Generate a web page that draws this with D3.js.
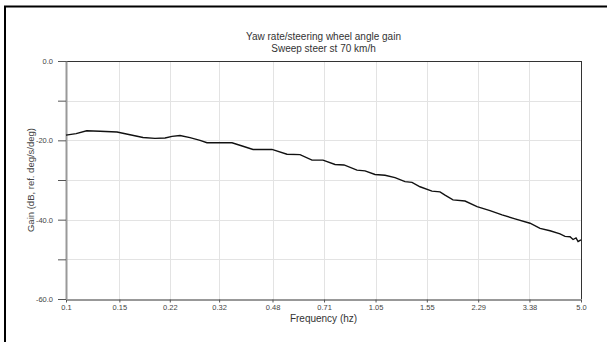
<!DOCTYPE html>
<html><head><meta charset="utf-8">
<script src="https://cdn.jsdelivr.net/npm/d3@7"></script>
<style>body{margin:0;background:#fff;}svg{display:block;font-family:"Liberation Sans",Arial,sans-serif;}</style>
</head><body><svg id="c" width="607" height="342"></svg>
<script>
const titleLines = ["Yaw rate/steering wheel angle gain", "Sweep steer st 70 km/h"];
const xLabel = "Frequency (hz)";
const yLabel = "Gain (dB, ref. deg/s/deg)";
const xTicks = [0.1, 0.15, 0.22, 0.32, 0.48, 0.71, 1.05, 1.55, 2.29, 3.38, 5.0];
const xTickLabels = ["0.1","0.15","0.22","0.32","0.48","0.71","1.05","1.55","2.29","3.38","5.0"];
const yTicks = [0, -10, -20, -30, -40, -50, -60];
const freq = [0.100,0.108,0.117,0.1295,0.1473,0.1626,0.1795,0.1966,0.2122,0.2238,0.2377,0.2565,0.2768,0.2918,0.3529,0.3836,0.414,0.4781,0.5358,0.5916,0.6479,0.7045,0.7717,0.8262,0.912,0.9692,1.0457,1.1283,1.2173,1.3134,1.385,1.472,1.612,1.713,1.78,1.891,2.072,2.27,2.505,2.745,3.029,3.395,3.663,3.953,4.264,4.429,4.6,4.707,4.815,4.89,5.0];
const gain = [-18.7,-18.3,-17.6,-17.7,-17.9,-18.6,-19.3,-19.5,-19.4,-19.0,-18.8,-19.3,-20.0,-20.6,-20.6,-21.5,-22.3,-22.3,-23.5,-23.6,-25.0,-25.0,-26.1,-26.2,-27.5,-27.7,-28.6,-28.8,-29.4,-30.4,-30.6,-31.7,-32.8,-33.0,-33.8,-35.0,-35.3,-36.7,-37.7,-38.8,-39.8,-40.9,-42.2,-42.8,-43.6,-44.2,-44.3,-45.0,-44.6,-45.5,-45.1];

const svg = d3.select("#c");
const L = 66, R = 581, T = 61, B = 299;
const x = d3.scaleLog().domain([0.1, 5.0]).range([L, R]);
const y = d3.scaleLinear().domain([-60, 0]).range([B, T]);

// outer frame
svg.append("rect").attr("x", 5).attr("y", 6.5).attr("width", 700).attr("height", 400)
  .attr("fill", "none").attr("stroke", "#000").attr("stroke-width", 2);

// grid
const g = svg.append("g");
g.selectAll(".hg").data(yTicks.slice(1, -1)).enter().append("line")
  .attr("x1", L).attr("x2", R).attr("y1", d => Math.round(y(d)) + 0.5).attr("y2", d => Math.round(y(d)) + 0.5)
  .attr("stroke", "#e3e3e3").attr("stroke-width", 1);
g.selectAll(".vg").data(xTicks.slice(1, -1)).enter().append("line")
  .attr("y1", T).attr("y2", B).attr("x1", d => Math.round(x(d)) + 0.5).attr("x2", d => Math.round(x(d)) + 0.5)
  .attr("stroke", "#e3e3e3").attr("stroke-width", 1);

// x axis
const xa = d3.axisBottom(x).tickValues(xTicks).tickFormat((d, i) => xTickLabels[i]).tickSize(3).tickPadding(2).tickSizeOuter(0);
const xg = svg.append("g").attr("transform", `translate(0,${B + 0.5})`).call(xa);
xg.select(".domain").attr("stroke", "#333");
xg.selectAll(".tick line").attr("stroke", "#555");
xg.selectAll(".tick text").attr("font-size", 7.5).attr("fill", "#444")
  .attr("font-family", "\"Liberation Sans\",Arial,sans-serif");

// top and right border
svg.append("line").attr("x1", L).attr("x2", R).attr("y1", T + 0.5).attr("y2", T + 0.5).attr("stroke", "#333");
svg.append("line").attr("x1", R + 0.5).attr("x2", R + 0.5).attr("y1", T).attr("y2", B).attr("stroke", "#333");

// y axis
const ya = d3.axisLeft(y).tickValues(yTicks).tickFormat(d => (d % 20 === 0) ? d.toFixed(1) : "").tickSize(8).tickSizeOuter(0);
const yg = svg.append("g").attr("transform", `translate(${L},0)`).call(ya);
yg.select(".domain").attr("stroke", "#999").attr("stroke-width", 2);
yg.selectAll(".tick line").attr("stroke", "#555");
yg.selectAll(".tick text").attr("font-size", 7.5).attr("fill", "#444").attr("x", -13)
  .attr("font-family", "\"Liberation Sans\",Arial,sans-serif");

// data line
const pts = freq.map((f, i) => [f, gain[i]]);
svg.append("path").datum(pts)
  .attr("d", d3.line().x(d => x(d[0])).y(d => y(d[1])))
  .attr("fill", "none").attr("stroke", "#111").attr("stroke-width", 1.4);

// titles
const cx = (L + R) / 2;
svg.append("text").attr("x", cx).attr("y", 40).attr("text-anchor", "middle").attr("font-size", 10).attr("fill", "#333").text(titleLines[0]);
svg.append("text").attr("x", cx).attr("y", 52).attr("text-anchor", "middle").attr("font-size", 10).attr("fill", "#333").text(titleLines[1]);
svg.append("text").attr("x", cx).attr("y", 322).attr("text-anchor", "middle").attr("font-size", 10).attr("fill", "#333").text(xLabel);
svg.append("text").attr("transform", `translate(34,${(T + B) / 2}) rotate(-90)`).attr("text-anchor", "middle")
  .attr("font-size", 9.5).attr("fill", "#444").text(yLabel);
</script></body></html>
